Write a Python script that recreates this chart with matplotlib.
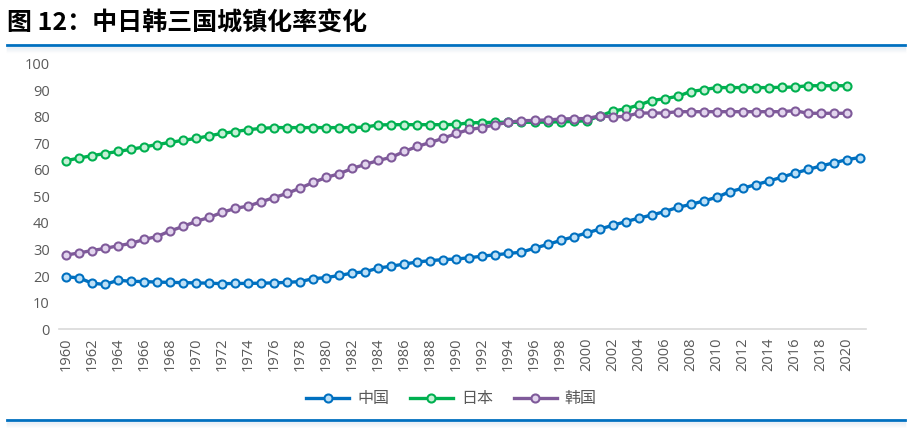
import numpy as np
import matplotlib
matplotlib.use("Agg")
import matplotlib.pyplot as plt
from matplotlib.lines import Line2D

plt.rcParams['font.family'] = ['Noto Sans CJK SC', 'DejaVu Sans']

# ---------------------------------------------------------------------------
# Data (urbanisation rate, %)
# ---------------------------------------------------------------------------
years_cn = list(range(1960, 2022))
years_jk = list(range(1960, 2021))

china = [19.7, 19.3, 17.3, 16.8, 18.4, 18.0, 17.9, 17.7, 17.6, 17.5,
         17.4, 17.3, 17.1, 17.2, 17.2, 17.3, 17.4, 17.6, 17.9, 19.0,
         19.4, 20.2, 21.1, 21.6, 23.0, 23.7, 24.5, 25.3, 25.8, 26.2,
         26.4, 26.9, 27.5, 28.0, 28.5, 29.0, 30.5, 31.9, 33.4, 34.8,
         36.2, 37.7, 39.1, 40.5, 41.8, 43.0, 44.3, 45.9, 47.0, 48.3,
         49.7, 51.8, 53.1, 54.5, 55.8, 57.3, 58.8, 60.2, 61.5, 62.7,
         63.9, 64.7]

japan = [63.5, 64.5, 65.4, 66.2, 67.0, 67.8, 68.7, 69.6, 70.4, 71.2,
         71.9, 72.9, 73.8, 74.5, 75.2, 75.7, 76.0, 76.0, 76.0, 76.0,
         76.0, 76.0, 76.0, 76.2, 77.0, 77.1, 77.1, 77.1, 77.1, 77.1,
         77.2, 77.8, 77.9, 78.0, 78.0, 78.0, 78.0, 78.1, 78.2, 78.3,
         78.6, 80.3, 82.2, 83.1, 84.5, 86.2, 86.9, 87.8, 89.6, 90.3,
         91.1, 91.1, 91.1, 91.1, 91.1, 91.2, 91.3, 91.8, 91.8, 91.8,
         91.8]

korea = [27.9, 28.7, 29.6, 30.4, 31.4, 32.3, 33.8, 34.9, 37.0, 38.7,
         40.6, 42.1, 44.0, 45.5, 46.4, 48.0, 49.6, 51.2, 53.2, 55.3,
         57.2, 58.6, 60.6, 62.1, 63.6, 64.8, 67.0, 68.9, 70.4, 72.0,
         73.8, 75.3, 76.0, 77.1, 78.0, 78.6, 78.7, 78.9, 79.2, 79.4,
         79.4, 80.4, 80.1, 80.2, 81.5, 81.5, 81.5, 82.0, 82.0, 82.0,
         82.0, 82.0, 82.0, 82.0, 82.0, 82.0, 82.4, 81.4, 81.4, 81.4,
         81.4]

series = [
    ("中国", years_cn, china, "#0070C0", "#BDE0F7"),
    ("日本", years_jk, japan, "#00B050", "#C6F0D6"),
    ("韩国", years_jk, korea, "#7F5A9A", "#E2D5EE"),
]

# ---------------------------------------------------------------------------
# Figure
# ---------------------------------------------------------------------------
fig = plt.figure(figsize=(9.12, 4.28), dpi=100)
fig.patch.set_facecolor("white")

ax = fig.add_axes([0.0652, 0.2313, 0.8848, 0.6192])

handles = []
for name, xs, ys, col, face in series:
    style = dict(color=col, linewidth=2.4, marker="o", markersize=5.8,
                 markerfacecolor=face, markeredgecolor=col,
                 markeredgewidth=1.5)
    ax.plot(xs, ys, zorder=3, **style)
    handles.append(Line2D([], [], label=name, **style))

ax.set_xlim(1959.5, 2021.5)
ax.set_ylim(0, 100)
ax.set_yticks(range(0, 101, 10))
ax.set_xticks(range(1960, 2021, 2))
ax.set_xticklabels([str(y) for y in range(1960, 2021, 2)], rotation=90)

for side in ("top", "right", "left"):
    ax.spines[side].set_visible(False)
ax.spines["bottom"].set_color("#D9D9D9")
ax.spines["bottom"].set_linewidth(1.2)
ax.tick_params(axis="both", length=0, colors="#595959", labelsize=10.5)
ax.tick_params(axis="y", pad=7)
ax.tick_params(axis="x", pad=6)
for lab in ax.get_xticklabels() + ax.get_yticklabels():
    lab.set_family(["Open Sans", "DejaVu Sans"])

leg = fig.legend(handles=handles, loc="center", bbox_to_anchor=(0.495, 0.068),
                 ncol=3, frameon=False, fontsize=11.5, handlelength=2.7,
                 columnspacing=1.3, handletextpad=0.5)
for t in leg.get_texts():
    t.set_color("#595959")

# title + decorative rules
fig.text(0.008, 0.945, "图 12：中日韩三国城镇化率变化", fontsize=18,
         fontweight="bold", color="#000000", va="center", ha="left")

top_rule = 1 - 45 / 428
bot_rule = 1 - 420 / 428
fig.add_artist(Line2D([0.008, 0.992], [top_rule, top_rule],
                      color="#0070C0", linewidth=2.0))
fig.add_artist(Line2D([0.008, 0.992], [bot_rule, bot_rule],
                      color="#0070C0", linewidth=2.0))
# faint shadow beneath the rules
for i, a in enumerate(np.linspace(0.18, 0.02, 6)):
    yy = top_rule - (2 + i) / 428
    fig.add_artist(Line2D([0.008, 0.992], [yy, yy], color="#9DB7D5",
                          alpha=a, linewidth=1.0))
    yy = bot_rule - (2 + i) / 428
    fig.add_artist(Line2D([0.008, 0.992], [yy, yy], color="#9DB7D5",
                          alpha=a, linewidth=1.0))

fig.savefig("out.png", dpi=100, facecolor=fig.get_facecolor())
